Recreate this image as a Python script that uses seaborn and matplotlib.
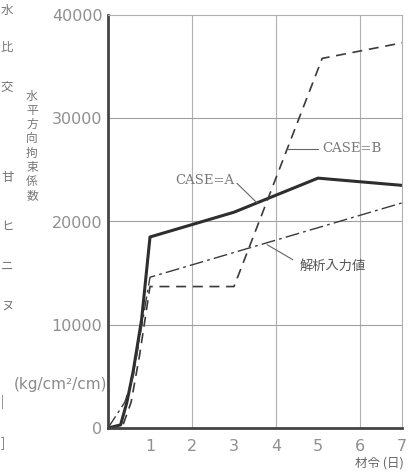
import matplotlib
matplotlib.use("Agg")
import matplotlib.pyplot as plt
import seaborn as sns

# data
days_a = [0, 0.3, 0.45, 0.6, 0.8, 1.0, 3.0, 5.0, 7.0]
case_a = [0, 300, 2500, 5500, 10500, 18500, 20900, 24200, 23500]

days_b = [0, 0.35, 0.55, 0.75, 0.9, 1.0, 3.0, 5.1, 7.0]
case_b = [0, 200, 2500, 7000, 11000, 13700, 13700, 35800, 37300]

days_in = [0, 0.4, 0.6, 0.85, 1.0, 7.0]
input_val = [0, 2500, 5000, 11000, 14600, 21800]

xticks = [1, 2, 3, 4, 5, 6, 7]
yticks = [0, 10000, 20000, 30000, 40000]
ylabel_chars = "水平方向拘束係数"
stray_chars = ["水", "比", "交", "甘", "ヒ", "ニ", "ヌ", "|", "]"]
stray_y = [10, 47, 88, 178, 226, 266, 306, 402, 443]

sns.set_style("white")
plt.rcParams['font.family'] = ['DejaVu Sans', 'Noto Sans CJK JP']

W, H = 409, 472
fig = plt.figure(figsize=(W / 100, H / 100), dpi=100)
ax = fig.add_axes([108 / W, 1 - 428 / H, (402 - 108) / W, (428 - 15) / H])

line_col = '#2e2e2e'
sns.lineplot(x=days_a, y=case_a, ax=ax, color=line_col, linewidth=2.2, estimator=None, sort=False)
sns.lineplot(x=days_b, y=case_b, ax=ax, color='#3a3a3a', linewidth=1.2,
             linestyle=(0, (6, 4)), estimator=None, sort=False)
sns.lineplot(x=days_in, y=input_val, ax=ax, color='#3a3a3a', linewidth=1.0,
             linestyle=(0, (10, 3, 2, 3)), estimator=None, sort=False)

ax.set_xlim(0, 7)
ax.set_ylim(0, 40000)
ax.set_xticks(xticks)
ax.set_yticks(yticks)
ax.set_xticklabels([str(t) for t in xticks])
ax.set_yticklabels([str(t) for t in yticks])
ax.tick_params(axis='both', labelsize=11.5, labelcolor='#8f8f8f', length=0, pad=4)
ax.tick_params(axis='x', pad=8)

for v in [2, 4, 6]:
    ax.axvline(v, color='#b0b0b0', linewidth=0.8, zorder=0)
for v in [10000, 20000, 30000]:
    ax.axhline(v, color='#a0a0a0', linewidth=0.8, zorder=0)

for side in ['top', 'right']:
    ax.spines[side].set_color('#b0b0b0')
    ax.spines[side].set_linewidth(0.8)
for side in ['left', 'bottom']:
    ax.spines[side].set_color('#444444')
    ax.spines[side].set_linewidth(2.0)

jp = ['Noto Sans CJK JP', 'DejaVu Sans']
lead = dict(color='#666666', linewidth=0.8)

# CASE=A label and leader
ax.plot([3.07, 3.55], [23700, 21800], **lead)
ax.text(2.31, 24000, "CASE=A", fontsize=9.5, color='#777777', ha='center', va='center',
        family=['DejaVu Serif'])
# CASE=B label and leader
ax.plot([4.26, 5.0], [27000, 27000], **lead)
ax.text(5.1, 27100, "CASE=B", fontsize=9.5, color='#777777', ha='left', va='center',
        family=['DejaVu Serif'])
# input value label and leader
ax.plot([3.79, 4.40], [17750, 16300], **lead)
ax.text(4.55, 15700, "解析入力値", fontsize=9.5, color='#555555', ha='left', va='center',
        family=jp)

fig.text(32 / W, 1 - 146 / H, "\n".join(ylabel_chars), fontsize=8.5, color='#777777',
         ha='center', va='center', linespacing=1.12, family=jp)
fig.text(60 / W, 1 - 385 / H, "(kg/cm²/cm)", fontsize=11, color='#8a8a8a',
         ha='center', va='center')
fig.text(379 / W, 1 - 463 / H, "材令 (日)", fontsize=9, color='#666666',
         ha='center', va='center', family=jp)

for ch, yy in zip(stray_chars, stray_y):
    fig.text(1 / W, 1 - yy / H, ch, fontsize=9, color='#777777',
             ha='left', va='center', family=jp)

fig.savefig("out.png", dpi=100)
